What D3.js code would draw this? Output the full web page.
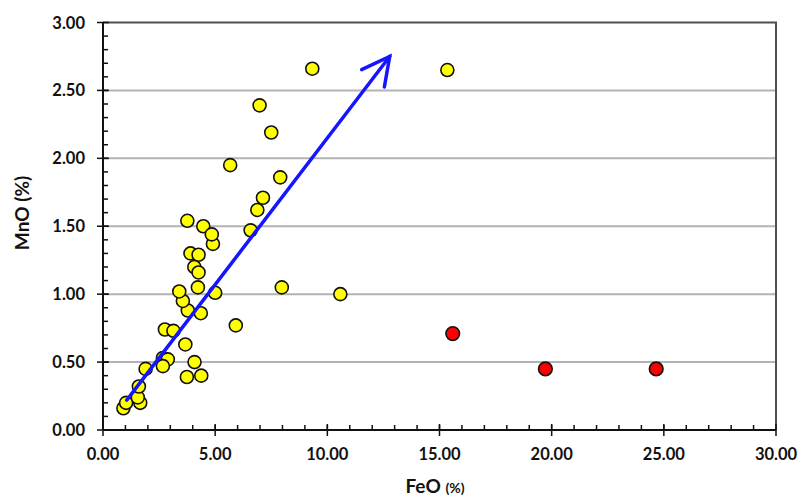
<!DOCTYPE html>
<html>
<head>
<meta charset="utf-8">
<script src="https://cdn.jsdelivr.net/npm/d3@7"></script>
<style>
  body { margin: 0; background: #fff; }
  svg { display: block; font-family: Lato, "Open Sans", sans-serif; }
</style>
</head>
<body>
<div id="chart"></div>
<script>
// yellow samples
const feoYellow = [0.91, 1.03, 1.66, 1.55, 1.60, 1.90, 2.67, 2.89, 2.67, 3.74, 4.38, 4.08, 3.67,
  2.76, 3.14, 3.78, 4.36, 3.56, 3.40, 4.23, 5.00, 5.92, 3.90, 4.26, 4.07, 4.26, 4.90,
  3.76, 4.47, 4.85, 6.58, 6.88, 7.13, 7.90, 5.67, 7.50, 6.98, 7.97, 10.58, 9.33, 15.35];
const mnoYellow = [0.16, 0.20, 0.20, 0.24, 0.32, 0.45, 0.53, 0.52, 0.47, 0.39, 0.40, 0.50, 0.63,
  0.74, 0.73, 0.88, 0.86, 0.95, 1.02, 1.05, 1.01, 0.77, 1.30, 1.29, 1.20, 1.16, 1.37,
  1.54, 1.50, 1.44, 1.47, 1.62, 1.71, 1.86, 1.95, 2.19, 2.39, 1.05, 1.00, 2.66, 2.65];
// red samples
const feoRed = [15.59, 19.72, 24.66];
const mnoRed = [0.71, 0.45, 0.45];
// trend arrow [FeO, MnO]
const arrowFrom = [1.06, 0.22];
const arrowTo = [12.78, 2.75];

const xMajor = [0, 5, 10, 15, 20, 25, 30];
const yMajor = [0, 0.5, 1, 1.5, 2, 2.5, 3];

const W = 799, H = 497;
const x0 = 103, x1 = 776, yb = 430, yt = 22.5;

const svg = d3.select("#chart").append("svg").attr("width", W).attr("height", H);

const x = d3.scaleLinear().domain([0, 30]).range([x0, x1]);
const y = d3.scaleLinear().domain([0, 3]).range([yb, yt]);

// gridlines
svg.append("g").selectAll("line")
  .data(yMajor.filter(v => v > 0 && v < 3))
  .join("line")
  .attr("x1", x0).attr("x2", x1)
  .attr("y1", d => y(d)).attr("y2", d => y(d))
  .attr("stroke", "#b3b3b3").attr("stroke-width", 2);

// top + right border
svg.append("path")
  .attr("d", `M${x0},${y(3)}H${x(30)}V${yb}`)
  .attr("fill", "none").attr("stroke", "#505050").attr("stroke-width", 2);

// minor ticks (inside)
const ax = svg.append("g").attr("stroke", "#111").attr("stroke-width", 1.5);
ax.selectAll(".mx").data(d3.range(1, 30)).join("line")
  .attr("x1", d => x(d)).attr("x2", d => x(d))
  .attr("y1", yb).attr("y2", yb - 5);
ax.selectAll(".my").data(d3.range(1, 30).map(d => d / 10)).join("line")
  .attr("y1", d => y(d)).attr("y2", d => y(d))
  .attr("x1", x0).attr("x2", x0 + 5);

// major ticks, crossing the axis
ax.selectAll(".Mx").data(xMajor).join("line")
  .attr("x1", d => x(d)).attr("x2", d => x(d))
  .attr("y1", yb - 6).attr("y2", yb + 6);
ax.selectAll(".My").data(yMajor).join("line")
  .attr("y1", d => y(d)).attr("y2", d => y(d))
  .attr("x1", x0 - 6).attr("x2", x0 + 6);

// axis lines
ax.append("line").attr("x1", x0).attr("x2", x1).attr("y1", yb).attr("y2", yb).attr("stroke-width", 2);
ax.append("line").attr("x1", x0).attr("x2", x0).attr("y1", yb).attr("y2", y(3)).attr("stroke-width", 2);

// tick labels
const fmt = d3.format(".2f");
svg.append("g").selectAll("text").data(xMajor).join("text")
  .attr("x", d => x(d)).attr("y", 460)
  .attr("text-anchor", "middle")
  .attr("font-size", 16.5).attr("font-weight", "bold").attr("fill", "#111")
  .text(fmt);
svg.append("g").selectAll("text").data(yMajor).join("text")
  .attr("x", 85).attr("y", d => y(d) + 6)
  .attr("text-anchor", "end")
  .attr("font-size", 16.5).attr("font-weight", "bold").attr("fill", "#111")
  .text(fmt);

// axis titles
const xt = svg.append("text")
  .attr("x", 435).attr("y", 493)
  .attr("text-anchor", "middle").attr("font-weight", "bold").attr("fill", "#111");
xt.append("tspan").attr("font-size", 19).text("FeO ");
xt.append("tspan").attr("font-size", 14).text("(%)");

svg.append("text")
  .attr("transform", "translate(29,213) rotate(-90)")
  .attr("text-anchor", "middle")
  .attr("font-size", 19).attr("font-weight", "bold").attr("fill", "#111")
  .text("MnO (%)");

// points
svg.append("g").selectAll("circle").data(d3.zip(feoYellow, mnoYellow)).join("circle")
  .attr("cx", d => x(d[0])).attr("cy", d => y(d[1])).attr("r", 6.5)
  .attr("fill", "#ffff00").attr("stroke", "#111").attr("stroke-width", 1.6);
svg.append("g").selectAll("circle").data(d3.zip(feoRed, mnoRed)).join("circle")
  .attr("cx", d => x(d[0])).attr("cy", d => y(d[1])).attr("r", 6.8)
  .attr("fill", "#ff0000").attr("stroke", "#111").attr("stroke-width", 1.6);

// trend arrow with open head
const p0 = [x(arrowFrom[0]), y(arrowFrom[1])];
const p1 = [x(arrowTo[0]), y(arrowTo[1])];
const ang = Math.atan2(p1[1] - p0[1], p1[0] - p0[0]);
const hl = 31, ha = 0.48;
const b1 = [p1[0] - hl * Math.cos(ang - ha), p1[1] - hl * Math.sin(ang - ha)];
const b2 = [p1[0] - hl * Math.cos(ang + ha), p1[1] - hl * Math.sin(ang + ha)];
const arrow = svg.append("g").attr("stroke", "#1515ff").attr("stroke-width", 3.5)
  .attr("fill", "none").attr("stroke-linecap", "round").attr("stroke-linejoin", "miter");
arrow.append("path").attr("d", d3.line()([p0, p1]));
arrow.append("path").attr("d", d3.line()([b1, p1, b2]));
</script>
</body>
</html>
